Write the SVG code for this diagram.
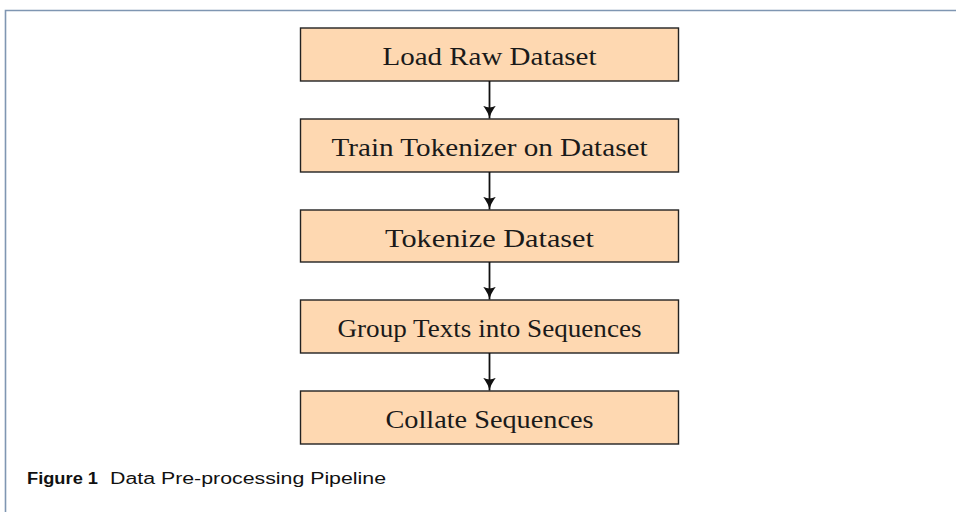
<svg xmlns="http://www.w3.org/2000/svg" width="956" height="512" viewBox="0 0 956 512">
<style>
.box{fill:#fed8b1;stroke:#222;stroke-width:1.4}
.lbl{font-family:"Liberation Serif","Times New Roman",serif;font-size:25px;fill:#1a1a1a;text-anchor:middle}
.edge{stroke:#111;stroke-width:1.8;fill:none}
.cap{font-family:"Liberation Sans",Arial,sans-serif;font-size:16px;fill:#111}
</style>
<defs>
<marker id="ah" markerWidth="14" markerHeight="14" viewBox="0 0 12 12" refX="11" refY="6" orient="auto" markerUnits="userSpaceOnUse">
<path d="M0,0.5 Q6,5 11,6 Q6,7 0,11.5 Q3,6 0,0.5 Z" fill="#111"/>
</marker>
</defs>
<rect x="0" y="0" width="956" height="512" fill="#fff"/>
<g id="frame">
<path d="M5.5,512 V10.5 H956" fill="none" stroke="#7f96b2" stroke-width="1.6"/>
</g>
<g id="n1"><rect class="box" x="300.5" y="28" width="378" height="53"/><text class="lbl" x="489.5" y="65" textLength="214" lengthAdjust="spacingAndGlyphs">Load Raw Dataset</text></g>
<g id="n2"><rect class="box" x="300.5" y="119" width="378" height="53"/><text class="lbl" x="489.5" y="156" textLength="316" lengthAdjust="spacingAndGlyphs">Train Tokenizer on Dataset</text></g>
<g id="n3"><rect class="box" x="300.5" y="210" width="378" height="52"/><text class="lbl" x="489.5" y="246.5" textLength="209" lengthAdjust="spacingAndGlyphs">Tokenize Dataset</text></g>
<g id="n4"><rect class="box" x="300.5" y="300" width="378" height="53"/><text class="lbl" x="489.5" y="337" textLength="304" lengthAdjust="spacingAndGlyphs">Group Texts into Sequences</text></g>
<g id="n5"><rect class="box" x="300.5" y="391" width="378" height="53"/><text class="lbl" x="489.5" y="428" textLength="208" lengthAdjust="spacingAndGlyphs">Collate Sequences</text></g>
<g id="connectors">
<line class="edge" x1="489.5" y1="81" x2="489.5" y2="118.5" marker-end="url(#ah)"/>
<line class="edge" x1="489.5" y1="172" x2="489.5" y2="209.5" marker-end="url(#ah)"/>
<line class="edge" x1="489.5" y1="262" x2="489.5" y2="299.5" marker-end="url(#ah)"/>
<line class="edge" x1="489.5" y1="353" x2="489.5" y2="390.5" marker-end="url(#ah)"/>
</g>
<g id="caption">
<text class="cap" x="27" y="484" font-weight="bold" textLength="71" lengthAdjust="spacingAndGlyphs">Figure 1</text>
<text class="cap" x="110" y="484" textLength="276" lengthAdjust="spacingAndGlyphs">Data Pre-processing Pipeline</text>
</g>
</svg>
